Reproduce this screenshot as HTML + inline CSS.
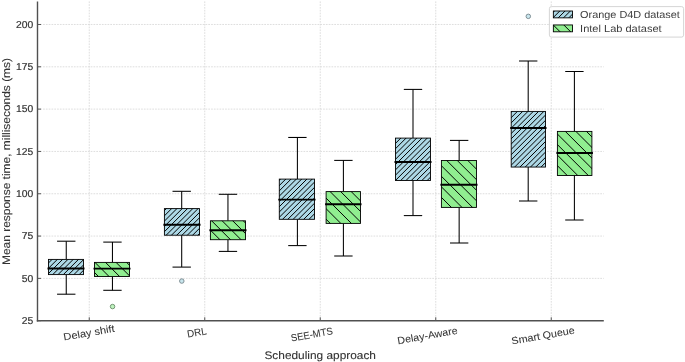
<!DOCTYPE html><html><head><meta charset="utf-8"><style>html,body{margin:0;padding:0;background:#fff;overflow:hidden}svg{display:block}</style></head><body><svg width="685" height="362" viewBox="0 0 685 362" style="text-rendering:geometricPrecision">
<rect width="685" height="362" fill="#fff"/>
<defs><clipPath id="c0"><rect x="48.50" y="259.40" width="35.00" height="15.20"/></clipPath><clipPath id="c1"><rect x="94.50" y="262.40" width="35.00" height="14.10"/></clipPath><clipPath id="c2"><rect x="164.40" y="208.60" width="35.10" height="26.60"/></clipPath><clipPath id="c3"><rect x="210.40" y="220.80" width="35.10" height="18.90"/></clipPath><clipPath id="c4"><rect x="279.30" y="179.10" width="35.20" height="40.20"/></clipPath><clipPath id="c5"><rect x="326.10" y="191.60" width="34.40" height="31.80"/></clipPath><clipPath id="c6"><rect x="395.50" y="138.10" width="35.00" height="42.40"/></clipPath><clipPath id="c7"><rect x="441.40" y="160.50" width="35.10" height="46.90"/></clipPath><clipPath id="c8"><rect x="511.20" y="111.40" width="34.30" height="55.65"/></clipPath><clipPath id="c9"><rect x="557.40" y="131.40" width="34.50" height="44.10"/></clipPath><clipPath id="l0"><rect x="553.35" y="11.0" width="19.10" height="6.85"/></clipPath><clipPath id="l1"><rect x="553.35" y="24.95" width="19.10" height="6.85"/></clipPath></defs>
<line x1="37.5" y1="278.38" x2="603.8" y2="278.38" stroke="#d6d6d6" stroke-width="0.8" stroke-dasharray="1.7 1.1"/>
<line x1="37.5" y1="236.07" x2="603.8" y2="236.07" stroke="#d6d6d6" stroke-width="0.8" stroke-dasharray="1.7 1.1"/>
<line x1="37.5" y1="193.75" x2="603.8" y2="193.75" stroke="#d6d6d6" stroke-width="0.8" stroke-dasharray="1.7 1.1"/>
<line x1="37.5" y1="151.44" x2="603.8" y2="151.44" stroke="#d6d6d6" stroke-width="0.8" stroke-dasharray="1.7 1.1"/>
<line x1="37.5" y1="109.12" x2="603.8" y2="109.12" stroke="#d6d6d6" stroke-width="0.8" stroke-dasharray="1.7 1.1"/>
<line x1="37.5" y1="66.81" x2="603.8" y2="66.81" stroke="#d6d6d6" stroke-width="0.8" stroke-dasharray="1.7 1.1"/>
<line x1="37.5" y1="24.49" x2="603.8" y2="24.49" stroke="#d6d6d6" stroke-width="0.8" stroke-dasharray="1.7 1.1"/>
<line x1="89.25" y1="1.4" x2="89.25" y2="320.8" stroke="#d6d6d6" stroke-width="0.8" stroke-dasharray="1.7 1.1"/>
<line x1="204.75" y1="1.4" x2="204.75" y2="320.8" stroke="#d6d6d6" stroke-width="0.8" stroke-dasharray="1.7 1.1"/>
<line x1="320.25" y1="1.4" x2="320.25" y2="320.8" stroke="#d6d6d6" stroke-width="0.8" stroke-dasharray="1.7 1.1"/>
<line x1="435.75" y1="1.4" x2="435.75" y2="320.8" stroke="#d6d6d6" stroke-width="0.8" stroke-dasharray="1.7 1.1"/>
<line x1="551.25" y1="1.4" x2="551.25" y2="320.8" stroke="#d6d6d6" stroke-width="0.8" stroke-dasharray="1.7 1.1"/>
<line x1="66.25" y1="259.40" x2="66.25" y2="241.20" stroke="#000" stroke-width="1.05"/>
<line x1="66.25" y1="274.60" x2="66.25" y2="294.20" stroke="#000" stroke-width="1.05"/>
<line x1="57.59" y1="241.20" x2="74.91" y2="241.20" stroke="#000" stroke-width="1.05" stroke-linecap="square"/>
<line x1="57.59" y1="294.20" x2="74.91" y2="294.20" stroke="#000" stroke-width="1.05" stroke-linecap="square"/>
<rect x="48.50" y="259.40" width="35.00" height="15.20" fill="#add8e6"/>
<g clip-path="url(#c0)" stroke="#000" stroke-width="1.0"><line x1="24.28" y1="276.60" x2="43.48" y2="257.40"/><line x1="29.57" y1="276.60" x2="48.77" y2="257.40"/><line x1="34.86" y1="276.60" x2="54.06" y2="257.40"/><line x1="40.15" y1="276.60" x2="59.35" y2="257.40"/><line x1="45.44" y1="276.60" x2="64.64" y2="257.40"/><line x1="50.73" y1="276.60" x2="69.93" y2="257.40"/><line x1="56.02" y1="276.60" x2="75.22" y2="257.40"/><line x1="61.31" y1="276.60" x2="80.51" y2="257.40"/><line x1="66.60" y1="276.60" x2="85.80" y2="257.40"/><line x1="71.88" y1="276.60" x2="91.08" y2="257.40"/><line x1="77.17" y1="276.60" x2="96.37" y2="257.40"/><line x1="82.46" y1="276.60" x2="101.66" y2="257.40"/><line x1="87.75" y1="276.60" x2="106.95" y2="257.40"/></g>
<rect x="48.50" y="259.40" width="35.00" height="15.20" fill="none" stroke="#000" stroke-width="0.9"/>
<line x1="47.50" y1="268.40" x2="84.50" y2="268.40" stroke="#000" stroke-width="1.95"/>
<line x1="112.45" y1="262.40" x2="112.45" y2="242.10" stroke="#000" stroke-width="1.05"/>
<line x1="112.45" y1="276.50" x2="112.45" y2="290.30" stroke="#000" stroke-width="1.05"/>
<line x1="103.79" y1="242.10" x2="121.11" y2="242.10" stroke="#000" stroke-width="1.05" stroke-linecap="square"/>
<line x1="103.79" y1="290.30" x2="121.11" y2="290.30" stroke="#000" stroke-width="1.05" stroke-linecap="square"/>
<rect x="94.50" y="262.40" width="35.00" height="14.10" fill="#90ee90"/>
<g clip-path="url(#c1)" stroke="#000" stroke-width="1.0"><line x1="61.32" y1="260.40" x2="79.42" y2="278.50"/><line x1="71.87" y1="260.40" x2="89.97" y2="278.50"/><line x1="82.42" y1="260.40" x2="100.52" y2="278.50"/><line x1="92.97" y1="260.40" x2="111.07" y2="278.50"/><line x1="103.52" y1="260.40" x2="121.62" y2="278.50"/><line x1="114.07" y1="260.40" x2="132.17" y2="278.50"/><line x1="124.62" y1="260.40" x2="142.72" y2="278.50"/><line x1="135.17" y1="260.40" x2="153.27" y2="278.50"/><line x1="145.72" y1="260.40" x2="163.82" y2="278.50"/></g>
<rect x="94.50" y="262.40" width="35.00" height="14.10" fill="none" stroke="#000" stroke-width="0.9"/>
<line x1="93.50" y1="268.60" x2="130.50" y2="268.60" stroke="#000" stroke-width="1.95"/>
<circle cx="112.55" cy="306.55" r="2.25" fill="#bdf3bd" stroke="#6f8f6f" stroke-width="0.95"/>
<line x1="181.70" y1="208.60" x2="181.70" y2="191.30" stroke="#000" stroke-width="1.05"/>
<line x1="181.70" y1="235.20" x2="181.70" y2="267.10" stroke="#000" stroke-width="1.05"/>
<line x1="173.04" y1="191.30" x2="190.36" y2="191.30" stroke="#000" stroke-width="1.05" stroke-linecap="square"/>
<line x1="173.04" y1="267.10" x2="190.36" y2="267.10" stroke="#000" stroke-width="1.05" stroke-linecap="square"/>
<rect x="164.40" y="208.60" width="35.10" height="26.60" fill="#add8e6"/>
<g clip-path="url(#c2)" stroke="#000" stroke-width="1.0"><line x1="127.15" y1="237.20" x2="157.75" y2="206.60"/><line x1="132.44" y1="237.20" x2="163.04" y2="206.60"/><line x1="137.73" y1="237.20" x2="168.33" y2="206.60"/><line x1="143.02" y1="237.20" x2="173.62" y2="206.60"/><line x1="148.31" y1="237.20" x2="178.91" y2="206.60"/><line x1="153.60" y1="237.20" x2="184.20" y2="206.60"/><line x1="158.89" y1="237.20" x2="189.49" y2="206.60"/><line x1="164.17" y1="237.20" x2="194.77" y2="206.60"/><line x1="169.46" y1="237.20" x2="200.06" y2="206.60"/><line x1="174.75" y1="237.20" x2="205.35" y2="206.60"/><line x1="180.04" y1="237.20" x2="210.64" y2="206.60"/><line x1="185.33" y1="237.20" x2="215.93" y2="206.60"/><line x1="190.62" y1="237.20" x2="221.22" y2="206.60"/><line x1="195.91" y1="237.20" x2="226.51" y2="206.60"/><line x1="201.20" y1="237.20" x2="231.80" y2="206.60"/><line x1="206.49" y1="237.20" x2="237.09" y2="206.60"/></g>
<rect x="164.40" y="208.60" width="35.10" height="26.60" fill="none" stroke="#000" stroke-width="0.9"/>
<line x1="163.40" y1="224.80" x2="200.50" y2="224.80" stroke="#000" stroke-width="1.95"/>
<circle cx="181.80" cy="281.05" r="2.25" fill="#c8e6ee" stroke="#7a8a90" stroke-width="0.95"/>
<line x1="227.95" y1="220.80" x2="227.95" y2="194.30" stroke="#000" stroke-width="1.05"/>
<line x1="227.95" y1="239.70" x2="227.95" y2="251.40" stroke="#000" stroke-width="1.05"/>
<line x1="219.29" y1="194.30" x2="236.61" y2="194.30" stroke="#000" stroke-width="1.05" stroke-linecap="square"/>
<line x1="219.29" y1="251.40" x2="236.61" y2="251.40" stroke="#000" stroke-width="1.05" stroke-linecap="square"/>
<rect x="210.40" y="220.80" width="35.10" height="18.90" fill="#90ee90"/>
<g clip-path="url(#c3)" stroke="#000" stroke-width="1.0"><line x1="177.97" y1="218.80" x2="200.87" y2="241.70"/><line x1="188.52" y1="218.80" x2="211.42" y2="241.70"/><line x1="199.07" y1="218.80" x2="221.97" y2="241.70"/><line x1="209.62" y1="218.80" x2="232.52" y2="241.70"/><line x1="220.17" y1="218.80" x2="243.07" y2="241.70"/><line x1="230.72" y1="218.80" x2="253.62" y2="241.70"/><line x1="241.27" y1="218.80" x2="264.17" y2="241.70"/><line x1="251.82" y1="218.80" x2="274.72" y2="241.70"/><line x1="262.37" y1="218.80" x2="285.27" y2="241.70"/></g>
<rect x="210.40" y="220.80" width="35.10" height="18.90" fill="none" stroke="#000" stroke-width="0.9"/>
<line x1="209.40" y1="230.30" x2="246.50" y2="230.30" stroke="#000" stroke-width="1.95"/>
<line x1="297.40" y1="179.10" x2="297.40" y2="137.45" stroke="#000" stroke-width="1.05"/>
<line x1="297.40" y1="219.30" x2="297.40" y2="245.60" stroke="#000" stroke-width="1.05"/>
<line x1="288.74" y1="137.45" x2="306.06" y2="137.45" stroke="#000" stroke-width="1.05" stroke-linecap="square"/>
<line x1="288.74" y1="245.60" x2="306.06" y2="245.60" stroke="#000" stroke-width="1.05" stroke-linecap="square"/>
<rect x="279.30" y="179.10" width="35.20" height="40.20" fill="#add8e6"/>
<g clip-path="url(#c4)" stroke="#000" stroke-width="1.0"><line x1="227.68" y1="221.30" x2="271.88" y2="177.10"/><line x1="232.96" y1="221.30" x2="277.16" y2="177.10"/><line x1="238.25" y1="221.30" x2="282.45" y2="177.10"/><line x1="243.54" y1="221.30" x2="287.74" y2="177.10"/><line x1="248.83" y1="221.30" x2="293.03" y2="177.10"/><line x1="254.12" y1="221.30" x2="298.32" y2="177.10"/><line x1="259.41" y1="221.30" x2="303.61" y2="177.10"/><line x1="264.70" y1="221.30" x2="308.90" y2="177.10"/><line x1="269.99" y1="221.30" x2="314.19" y2="177.10"/><line x1="275.28" y1="221.30" x2="319.48" y2="177.10"/><line x1="280.57" y1="221.30" x2="324.77" y2="177.10"/><line x1="285.85" y1="221.30" x2="330.05" y2="177.10"/><line x1="291.14" y1="221.30" x2="335.34" y2="177.10"/><line x1="296.43" y1="221.30" x2="340.63" y2="177.10"/><line x1="301.72" y1="221.30" x2="345.92" y2="177.10"/><line x1="307.01" y1="221.30" x2="351.21" y2="177.10"/><line x1="312.30" y1="221.30" x2="356.50" y2="177.10"/><line x1="317.59" y1="221.30" x2="361.79" y2="177.10"/><line x1="322.88" y1="221.30" x2="367.08" y2="177.10"/></g>
<rect x="279.30" y="179.10" width="35.20" height="40.20" fill="none" stroke="#000" stroke-width="0.9"/>
<line x1="278.30" y1="199.60" x2="315.50" y2="199.60" stroke="#000" stroke-width="1.95"/>
<line x1="343.40" y1="191.60" x2="343.40" y2="160.40" stroke="#000" stroke-width="1.05"/>
<line x1="343.40" y1="223.40" x2="343.40" y2="256.00" stroke="#000" stroke-width="1.05"/>
<line x1="334.74" y1="160.40" x2="352.06" y2="160.40" stroke="#000" stroke-width="1.05" stroke-linecap="square"/>
<line x1="334.74" y1="256.00" x2="352.06" y2="256.00" stroke="#000" stroke-width="1.05" stroke-linecap="square"/>
<rect x="326.10" y="191.60" width="34.40" height="31.80" fill="#90ee90"/>
<g clip-path="url(#c5)" stroke="#000" stroke-width="1.0"><line x1="275.37" y1="189.60" x2="311.17" y2="225.40"/><line x1="285.92" y1="189.60" x2="321.72" y2="225.40"/><line x1="296.47" y1="189.60" x2="332.27" y2="225.40"/><line x1="307.02" y1="189.60" x2="342.82" y2="225.40"/><line x1="317.57" y1="189.60" x2="353.37" y2="225.40"/><line x1="328.12" y1="189.60" x2="363.92" y2="225.40"/><line x1="338.67" y1="189.60" x2="374.47" y2="225.40"/><line x1="349.22" y1="189.60" x2="385.02" y2="225.40"/><line x1="359.77" y1="189.60" x2="395.57" y2="225.40"/><line x1="370.32" y1="189.60" x2="406.12" y2="225.40"/></g>
<rect x="326.10" y="191.60" width="34.40" height="31.80" fill="none" stroke="#000" stroke-width="0.9"/>
<line x1="325.10" y1="204.30" x2="361.50" y2="204.30" stroke="#000" stroke-width="1.95"/>
<line x1="413.00" y1="138.10" x2="413.00" y2="89.40" stroke="#000" stroke-width="1.05"/>
<line x1="413.00" y1="180.50" x2="413.00" y2="215.60" stroke="#000" stroke-width="1.05"/>
<line x1="404.34" y1="89.40" x2="421.66" y2="89.40" stroke="#000" stroke-width="1.05" stroke-linecap="square"/>
<line x1="404.34" y1="215.60" x2="421.66" y2="215.60" stroke="#000" stroke-width="1.05" stroke-linecap="square"/>
<rect x="395.50" y="138.10" width="35.00" height="42.40" fill="#add8e6"/>
<g clip-path="url(#c6)" stroke="#000" stroke-width="1.0"><line x1="345.81" y1="182.50" x2="392.21" y2="136.10"/><line x1="351.10" y1="182.50" x2="397.50" y2="136.10"/><line x1="356.39" y1="182.50" x2="402.79" y2="136.10"/><line x1="361.68" y1="182.50" x2="408.08" y2="136.10"/><line x1="366.97" y1="182.50" x2="413.37" y2="136.10"/><line x1="372.26" y1="182.50" x2="418.66" y2="136.10"/><line x1="377.54" y1="182.50" x2="423.94" y2="136.10"/><line x1="382.83" y1="182.50" x2="429.23" y2="136.10"/><line x1="388.12" y1="182.50" x2="434.52" y2="136.10"/><line x1="393.41" y1="182.50" x2="439.81" y2="136.10"/><line x1="398.70" y1="182.50" x2="445.10" y2="136.10"/><line x1="403.99" y1="182.50" x2="450.39" y2="136.10"/><line x1="409.28" y1="182.50" x2="455.68" y2="136.10"/><line x1="414.57" y1="182.50" x2="460.97" y2="136.10"/><line x1="419.86" y1="182.50" x2="466.26" y2="136.10"/><line x1="425.15" y1="182.50" x2="471.55" y2="136.10"/><line x1="430.44" y1="182.50" x2="476.84" y2="136.10"/><line x1="435.72" y1="182.50" x2="482.12" y2="136.10"/></g>
<rect x="395.50" y="138.10" width="35.00" height="42.40" fill="none" stroke="#000" stroke-width="0.9"/>
<line x1="394.50" y1="161.90" x2="431.50" y2="161.90" stroke="#000" stroke-width="1.95"/>
<line x1="459.15" y1="160.50" x2="459.15" y2="140.40" stroke="#000" stroke-width="1.05"/>
<line x1="459.15" y1="207.40" x2="459.15" y2="243.00" stroke="#000" stroke-width="1.05"/>
<line x1="450.49" y1="140.40" x2="467.81" y2="140.40" stroke="#000" stroke-width="1.05" stroke-linecap="square"/>
<line x1="450.49" y1="243.00" x2="467.81" y2="243.00" stroke="#000" stroke-width="1.05" stroke-linecap="square"/>
<rect x="441.40" y="160.50" width="35.10" height="46.90" fill="#90ee90"/>
<g clip-path="url(#c7)" stroke="#000" stroke-width="1.0"><line x1="381.42" y1="158.50" x2="432.32" y2="209.40"/><line x1="391.97" y1="158.50" x2="442.87" y2="209.40"/><line x1="402.52" y1="158.50" x2="453.42" y2="209.40"/><line x1="413.07" y1="158.50" x2="463.97" y2="209.40"/><line x1="423.62" y1="158.50" x2="474.52" y2="209.40"/><line x1="434.17" y1="158.50" x2="485.07" y2="209.40"/><line x1="444.72" y1="158.50" x2="495.62" y2="209.40"/><line x1="455.27" y1="158.50" x2="506.17" y2="209.40"/><line x1="465.82" y1="158.50" x2="516.72" y2="209.40"/><line x1="476.37" y1="158.50" x2="527.27" y2="209.40"/><line x1="486.92" y1="158.50" x2="537.82" y2="209.40"/></g>
<rect x="441.40" y="160.50" width="35.10" height="46.90" fill="none" stroke="#000" stroke-width="0.9"/>
<line x1="440.40" y1="184.80" x2="477.50" y2="184.80" stroke="#000" stroke-width="1.95"/>
<line x1="528.20" y1="111.40" x2="528.20" y2="61.00" stroke="#000" stroke-width="1.05"/>
<line x1="528.20" y1="167.05" x2="528.20" y2="201.00" stroke="#000" stroke-width="1.05"/>
<line x1="519.54" y1="61.00" x2="536.86" y2="61.00" stroke="#000" stroke-width="1.05" stroke-linecap="square"/>
<line x1="519.54" y1="201.00" x2="536.86" y2="201.00" stroke="#000" stroke-width="1.05" stroke-linecap="square"/>
<rect x="511.20" y="111.40" width="34.30" height="55.65" fill="#add8e6"/>
<g clip-path="url(#c8)" stroke="#000" stroke-width="1.0"><line x1="443.89" y1="169.05" x2="503.54" y2="109.40"/><line x1="449.17" y1="169.05" x2="508.82" y2="109.40"/><line x1="454.46" y1="169.05" x2="514.11" y2="109.40"/><line x1="459.75" y1="169.05" x2="519.40" y2="109.40"/><line x1="465.04" y1="169.05" x2="524.69" y2="109.40"/><line x1="470.33" y1="169.05" x2="529.98" y2="109.40"/><line x1="475.62" y1="169.05" x2="535.27" y2="109.40"/><line x1="480.91" y1="169.05" x2="540.56" y2="109.40"/><line x1="486.20" y1="169.05" x2="545.85" y2="109.40"/><line x1="491.49" y1="169.05" x2="551.14" y2="109.40"/><line x1="496.78" y1="169.05" x2="556.43" y2="109.40"/><line x1="502.06" y1="169.05" x2="561.71" y2="109.40"/><line x1="507.35" y1="169.05" x2="567.00" y2="109.40"/><line x1="512.64" y1="169.05" x2="572.29" y2="109.40"/><line x1="517.93" y1="169.05" x2="577.58" y2="109.40"/><line x1="523.22" y1="169.05" x2="582.87" y2="109.40"/><line x1="528.51" y1="169.05" x2="588.16" y2="109.40"/><line x1="533.80" y1="169.05" x2="593.45" y2="109.40"/><line x1="539.09" y1="169.05" x2="598.74" y2="109.40"/><line x1="544.38" y1="169.05" x2="604.03" y2="109.40"/><line x1="549.66" y1="169.05" x2="609.32" y2="109.40"/></g>
<rect x="511.20" y="111.40" width="34.30" height="55.65" fill="none" stroke="#000" stroke-width="0.9"/>
<line x1="510.20" y1="128.00" x2="546.50" y2="128.00" stroke="#000" stroke-width="1.95"/>
<circle cx="528.30" cy="16.35" r="2.25" fill="#c8e6ee" stroke="#7a8a90" stroke-width="0.95"/>
<line x1="574.40" y1="131.40" x2="574.40" y2="71.50" stroke="#000" stroke-width="1.05"/>
<line x1="574.40" y1="175.50" x2="574.40" y2="220.00" stroke="#000" stroke-width="1.05"/>
<line x1="565.74" y1="71.50" x2="583.06" y2="71.50" stroke="#000" stroke-width="1.05" stroke-linecap="square"/>
<line x1="565.74" y1="220.00" x2="583.06" y2="220.00" stroke="#000" stroke-width="1.05" stroke-linecap="square"/>
<rect x="557.40" y="131.40" width="34.50" height="44.10" fill="#90ee90"/>
<g clip-path="url(#c9)" stroke="#000" stroke-width="1.0"><line x1="500.02" y1="129.40" x2="548.12" y2="177.50"/><line x1="510.57" y1="129.40" x2="558.67" y2="177.50"/><line x1="521.12" y1="129.40" x2="569.22" y2="177.50"/><line x1="531.67" y1="129.40" x2="579.77" y2="177.50"/><line x1="542.22" y1="129.40" x2="590.32" y2="177.50"/><line x1="552.77" y1="129.40" x2="600.87" y2="177.50"/><line x1="563.32" y1="129.40" x2="611.42" y2="177.50"/><line x1="573.87" y1="129.40" x2="621.97" y2="177.50"/><line x1="584.42" y1="129.40" x2="632.52" y2="177.50"/><line x1="594.97" y1="129.40" x2="643.07" y2="177.50"/><line x1="605.52" y1="129.40" x2="653.62" y2="177.50"/></g>
<rect x="557.40" y="131.40" width="34.50" height="44.10" fill="none" stroke="#000" stroke-width="0.9"/>
<line x1="556.40" y1="153.00" x2="592.90" y2="153.00" stroke="#000" stroke-width="1.95"/>
<line x1="37.5" y1="1.4" x2="37.5" y2="321.5" stroke="#505050" stroke-width="1.4"/>
<line x1="36.8" y1="320.8" x2="603.8" y2="320.8" stroke="#505050" stroke-width="1.4"/>
<line x1="37.5" y1="320.70" x2="41.0" y2="320.70" stroke="#555555" stroke-width="1.0"/>
<line x1="37.5" y1="278.38" x2="41.0" y2="278.38" stroke="#555555" stroke-width="1.0"/>
<line x1="37.5" y1="236.07" x2="41.0" y2="236.07" stroke="#555555" stroke-width="1.0"/>
<line x1="37.5" y1="193.75" x2="41.0" y2="193.75" stroke="#555555" stroke-width="1.0"/>
<line x1="37.5" y1="151.44" x2="41.0" y2="151.44" stroke="#555555" stroke-width="1.0"/>
<line x1="37.5" y1="109.12" x2="41.0" y2="109.12" stroke="#555555" stroke-width="1.0"/>
<line x1="37.5" y1="66.81" x2="41.0" y2="66.81" stroke="#555555" stroke-width="1.0"/>
<line x1="37.5" y1="24.49" x2="41.0" y2="24.49" stroke="#555555" stroke-width="1.0"/>
<line x1="89.25" y1="320.8" x2="89.25" y2="317.3" stroke="#555555" stroke-width="1.0"/>
<line x1="204.75" y1="320.8" x2="204.75" y2="317.3" stroke="#555555" stroke-width="1.0"/>
<line x1="320.25" y1="320.8" x2="320.25" y2="317.3" stroke="#555555" stroke-width="1.0"/>
<line x1="435.75" y1="320.8" x2="435.75" y2="317.3" stroke="#555555" stroke-width="1.0"/>
<line x1="551.25" y1="320.8" x2="551.25" y2="317.3" stroke="#555555" stroke-width="1.0"/>
<g style="will-change:transform">
<text x="33.2" y="323.85" font-family="Liberation Sans, sans-serif" font-size="10.0" fill="#333333" text-anchor="end" textLength="11.5" lengthAdjust="spacingAndGlyphs" stroke="#333333" stroke-width="0.2">25</text>
<text x="33.2" y="281.53" font-family="Liberation Sans, sans-serif" font-size="10.0" fill="#333333" text-anchor="end" textLength="11.5" lengthAdjust="spacingAndGlyphs" stroke="#333333" stroke-width="0.2">50</text>
<text x="33.2" y="239.22" font-family="Liberation Sans, sans-serif" font-size="10.0" fill="#333333" text-anchor="end" textLength="11.5" lengthAdjust="spacingAndGlyphs" stroke="#333333" stroke-width="0.2">75</text>
<text x="33.2" y="196.91" font-family="Liberation Sans, sans-serif" font-size="10.0" fill="#333333" text-anchor="end" textLength="17.2" lengthAdjust="spacingAndGlyphs" stroke="#333333" stroke-width="0.2">100</text>
<text x="33.2" y="154.59" font-family="Liberation Sans, sans-serif" font-size="10.0" fill="#333333" text-anchor="end" textLength="17.2" lengthAdjust="spacingAndGlyphs" stroke="#333333" stroke-width="0.2">125</text>
<text x="33.2" y="112.27" font-family="Liberation Sans, sans-serif" font-size="10.0" fill="#333333" text-anchor="end" textLength="17.2" lengthAdjust="spacingAndGlyphs" stroke="#333333" stroke-width="0.2">150</text>
<text x="33.2" y="69.96" font-family="Liberation Sans, sans-serif" font-size="10.0" fill="#333333" text-anchor="end" textLength="17.2" lengthAdjust="spacingAndGlyphs" stroke="#333333" stroke-width="0.2">175</text>
<text x="33.2" y="27.64" font-family="Liberation Sans, sans-serif" font-size="10.0" fill="#333333" text-anchor="end" textLength="17.2" lengthAdjust="spacingAndGlyphs" stroke="#333333" stroke-width="0.2">200</text>
<text transform="translate(64.0,340.6) rotate(-10)" font-family="Liberation Sans, sans-serif" font-size="10.1" fill="#333333" stroke="#333333" stroke-width="0.05" textLength="51.8" lengthAdjust="spacingAndGlyphs">Delay shift</text>
<text transform="translate(187.7,337.6) rotate(-10)" font-family="Liberation Sans, sans-serif" font-size="10.1" fill="#333333" stroke="#333333" stroke-width="0.05" textLength="19.6" lengthAdjust="spacingAndGlyphs">DRL</text>
<text transform="translate(291.4,341.6) rotate(-10)" font-family="Liberation Sans, sans-serif" font-size="10.1" fill="#333333" stroke="#333333" stroke-width="0.05" textLength="42.4" lengthAdjust="spacingAndGlyphs">SEE-MTS</text>
<text transform="translate(398.1,344.2) rotate(-10)" font-family="Liberation Sans, sans-serif" font-size="10.1" fill="#333333" stroke="#333333" stroke-width="0.05" textLength="60.8" lengthAdjust="spacingAndGlyphs">Delay-Aware</text>
<text transform="translate(512.1,344.6) rotate(-10)" font-family="Liberation Sans, sans-serif" font-size="10.1" fill="#333333" stroke="#333333" stroke-width="0.05" textLength="64.0" lengthAdjust="spacingAndGlyphs">Smart Queue</text>
<text x="320.2" y="358.7" font-family="Liberation Sans, sans-serif" font-size="11.0" fill="#333333" stroke="#333333" stroke-width="0.1" text-anchor="middle" textLength="111.5" lengthAdjust="spacingAndGlyphs">Scheduling approach</text>
<text transform="translate(10.1,161.5) rotate(-90)" font-family="Liberation Sans, sans-serif" font-size="11.0" fill="#333333" stroke="#333333" stroke-width="0.1" text-anchor="middle" textLength="207" lengthAdjust="spacingAndGlyphs">Mean response time, milliseconds (ms)</text>
</g>
<rect x="549.4" y="6.6" width="134.2" height="30.5" rx="2" ry="2" fill="#fff" fill-opacity="0.8" stroke="#d0d0d0" stroke-width="0.9"/>
<rect x="553.35" y="11.0" width="19.10" height="6.85" fill="#add8e6"/>
<g clip-path="url(#l0)" stroke="#000" stroke-width="1.0"><line x1="535.06" y1="19.85" x2="545.91" y2="9.00"/><line x1="540.34" y1="19.85" x2="551.19" y2="9.00"/><line x1="545.63" y1="19.85" x2="556.48" y2="9.00"/><line x1="550.92" y1="19.85" x2="561.77" y2="9.00"/><line x1="556.21" y1="19.85" x2="567.06" y2="9.00"/><line x1="561.50" y1="19.85" x2="572.35" y2="9.00"/><line x1="566.79" y1="19.85" x2="577.64" y2="9.00"/><line x1="572.08" y1="19.85" x2="582.93" y2="9.00"/><line x1="577.37" y1="19.85" x2="588.22" y2="9.00"/></g>
<rect x="553.35" y="11.0" width="19.10" height="6.85" fill="none" stroke="#000" stroke-width="0.9"/>
<rect x="553.35" y="24.95" width="19.10" height="6.85" fill="#90ee90"/>
<g clip-path="url(#l1)" stroke="#000" stroke-width="1.0"><line x1="530.15" y1="22.95" x2="541.00" y2="33.80"/><line x1="540.70" y1="22.95" x2="551.55" y2="33.80"/><line x1="551.25" y1="22.95" x2="562.10" y2="33.80"/><line x1="561.80" y1="22.95" x2="572.65" y2="33.80"/><line x1="572.35" y1="22.95" x2="583.20" y2="33.80"/><line x1="582.90" y1="22.95" x2="593.75" y2="33.80"/></g>
<rect x="553.35" y="24.95" width="19.10" height="6.85" fill="none" stroke="#000" stroke-width="0.9"/>
<g style="will-change:transform"><text x="580.1" y="17.65" font-family="Liberation Sans, sans-serif" font-size="10.2" fill="#3c3c3c" textLength="99.8" lengthAdjust="spacingAndGlyphs">Orange D4D dataset</text><text x="580.1" y="31.60" font-family="Liberation Sans, sans-serif" font-size="10.2" fill="#3c3c3c" textLength="81.6" lengthAdjust="spacingAndGlyphs">Intel Lab dataset</text></g>
</svg></body></html>
